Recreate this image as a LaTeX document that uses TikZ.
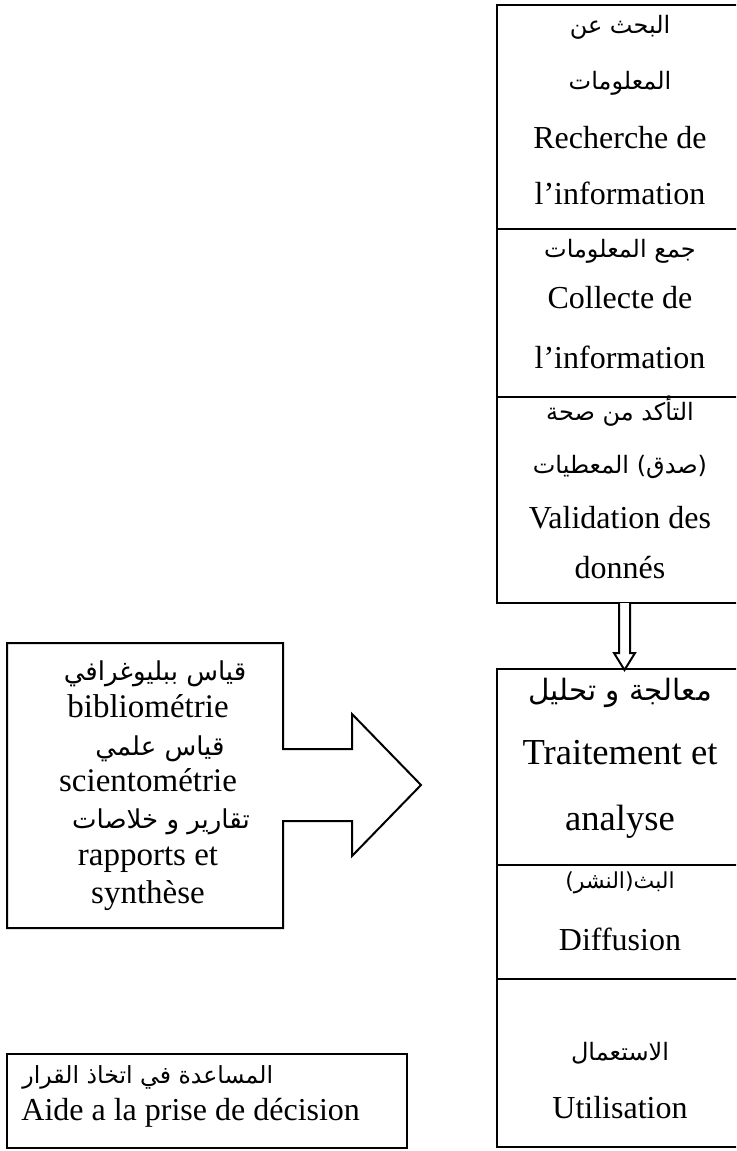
\documentclass[tikz,border=0pt]{standalone}
\usepackage{fontspec}
\setmainfont{Liberation Serif}
\newfontfamily\arabicfont[Script=Arabic]{DejaVu Sans}
\TeXXeTstate=1
\begin{document}
\begin{tikzpicture}[x=0.5pt,y=-0.5pt,
  colline/.style={line width=1.4pt},
  boxline/.style={line width=1pt, line join=miter},
  lat/.style={inner sep=0pt, anchor=base, font=\fontsize{16}{16}\selectfont},
  latmid/.style={inner sep=0pt, anchor=base, font=\fontsize{16.5}{16}\selectfont},
  latbig/.style={inner sep=0pt, anchor=base, font=\fontsize{18.3}{18}\selectfont},
  arb/.style={inner sep=0pt, anchor=base, font=\arabicfont\fontsize{12}{12}\selectfont},
  arbsmall/.style={inner sep=0pt, anchor=base, font=\arabicfont\fontsize{11}{11}\selectfont},
  arbbig/.style={inner sep=0pt, anchor=base, font=\arabicfont\fontsize{14.7}{14}\selectfont},
  arbmid/.style={inner sep=0pt, anchor=base, font=\arabicfont\fontsize{13}{13}\selectfont},
  arbnote/.style={inner sep=0pt, anchor=base west, font=\arabicfont\fontsize{11.8}{12}\selectfont}]
\clip (0,0) rectangle (736,1151);
\fill[white] (0,0) rectangle (736,1151);

% upper column: search, collection, validation
\draw[colline] (497,5) rectangle (743,603);
\draw[colline] (497,229) -- (743,229);
\draw[colline] (497,397) -- (743,397);

\node[arb] (s1) at (620,33)  {\beginR البحث عن\endR};
\node[arb] (s2) at (620,89)  {\beginR المعلومات\endR};
\node[lat] (s3) at (620,148) {Recherche de};
\node[lat] (s4) at (620,204) {l’information};

\node[arb] (c1) at (620,257) {\beginR جمع المعلومات\endR};
\node[lat] (c2) at (620,308) {Collecte de};
\node[lat] (c3) at (620,368) {l’information};

\node[arb] (v1) at (620,420) {\beginR التأكد من صحة\endR};
\node[arb] (v2) at (620,473) {\beginR (صدق) المعطيات\endR};
\node[lat] (v3) at (620,528) {Validation des};
\node[lat] (v4) at (620,578) {donnés};

% lower column: processing, diffusion, use
\draw[colline] (497,669) rectangle (743,1147);
\draw[colline] (497,865) -- (743,865);
\draw[colline] (497,979) -- (743,979);

\node[arbbig] (p1) at (620,700) {\beginR معالجة و تحليل\endR};
\node[latbig] (p2) at (620,764) {Traitement et};
\node[latbig] (p3) at (620,830) {analyse};

\node[arbsmall] (d1) at (620,888) {\beginR البث(النشر)\endR};
\node[lat] (d2) at (620,950) {Diffusion};

\node[arb] (u1) at (620,1060) {\beginR الاستعمال\endR};
\node[lat] (u2) at (620,1118) {Utilisation};

% hollow down arrow between the two columns
\draw[boxline, fill=white] (619,603) -- (619,653) -- (614,653) -- (624.5,670)
  -- (635,653) -- (630,653) -- (630,603);

% left box merged with the block arrow pointing right
\draw[boxline] (7,643) -- (283,643) -- (283,749) -- (352,749) -- (352,714)
  -- (421,785) -- (352,856) -- (352,821) -- (283,821) -- (283,928)
  -- (7,928) -- cycle;

\node[arbmid] (m1) at (155,680) {\beginR قياس ببليوغرافي\endR};
\node[latmid] (m2) at (148,717) {bibliométrie};
\node[arbmid] (m3) at (160,755) {\beginR قياس علمي\endR};
\node[latmid] (m4) at (148,791) {scientométrie};
\node[arbmid] (m5) at (161,828) {\beginR تقارير و خلاصات\endR};
\node[latmid] (m6) at (148,865) {rapports et};
\node[latmid] (m7) at (148,903) {synthèse};

% decision-support box
\draw[boxline] (7,1054) rectangle (407,1148);
\node[arbnote] (a1) at (22,1083) {\beginR المساعدة في اتخاذ القرار\endR};
\node[lat, anchor=base west] (a2) at (21,1120) {Aide a la prise de décision};
\end{tikzpicture}
\end{document}
